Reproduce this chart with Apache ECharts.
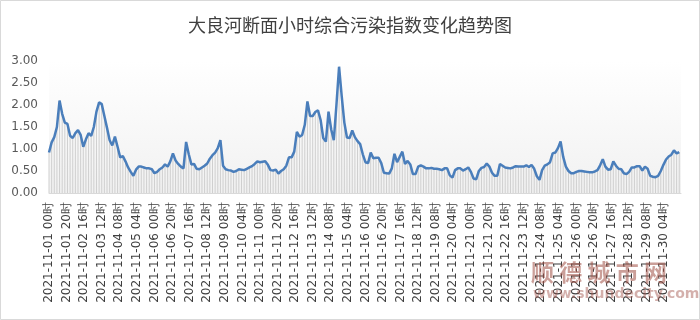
<!DOCTYPE html>
<html>
<head>
<meta charset="utf-8">
<script src="https://cdn.jsdelivr.net/npm/echarts@6/dist/echarts.min.js"></script>
<style>html,body{margin:0;padding:0;background:#fff}#c{width:700px;height:320px}</style>
</head>
<body>
<div id="c"></div>
<script>
// Title
const TITLE = '大良河断面小时综合污染指数变化趋势图';

// Hourly categories 2021-11-01 00时 .. 2021-11-30 23时
const DAYS = 30;
const categories = [];
for (let d = 1; d <= DAYS; d++) {
  for (let h = 0; h < 24; h++) {
    categories.push('2021-11-' + String(d).padStart(2, '0') + ' ' + String(h).padStart(2, '0') + '时');
  }
}

// Readings, one every SAMPLE_STEP hours starting at 11-01 00时
const SAMPLE_STEP = 3;
const pollutionIndex = [
  0.92,1.15,1.27,1.50,2.10,1.80,1.60,1.57,1.30,1.25,1.36,1.43,1.32,1.05,1.22,1.36,1.30,1.50,1.85,2.06,
  2.02,1.75,1.48,1.20,1.08,1.28,1.05,0.81,0.84,0.72,0.58,0.48,0.39,0.53,0.60,0.60,0.58,0.56,0.56,0.54,
  0.45,0.48,0.54,0.58,0.65,0.60,0.72,0.90,0.74,0.66,0.60,0.56,1.16,0.88,0.65,0.66,0.55,0.54,0.58,0.62,
  0.67,0.78,0.86,0.92,1.02,1.20,0.62,0.54,0.52,0.51,0.48,0.50,0.54,0.53,0.52,0.55,0.58,0.61,0.66,0.72,
  0.70,0.71,0.72,0.64,0.52,0.51,0.53,0.44,0.50,0.54,0.62,0.81,0.81,0.94,1.39,1.28,1.32,1.55,2.08,1.75,
  1.75,1.84,1.88,1.66,1.25,1.17,1.85,1.45,1.20,2.00,2.87,2.20,1.60,1.26,1.25,1.42,1.27,1.18,1.11,0.88,
  0.70,0.68,0.92,0.79,0.80,0.80,0.68,0.46,0.45,0.44,0.56,0.89,0.70,0.82,0.94,0.66,0.73,0.65,0.43,0.43,
  0.60,0.63,0.60,0.56,0.56,0.57,0.55,0.55,0.54,0.52,0.56,0.56,0.40,0.35,0.52,0.56,0.56,0.51,0.54,0.58,
  0.48,0.33,0.31,0.50,0.57,0.59,0.67,0.60,0.46,0.39,0.39,0.66,0.62,0.58,0.57,0.56,0.58,0.61,0.60,0.60,
  0.60,0.63,0.59,0.64,0.55,0.38,0.30,0.52,0.62,0.65,0.70,0.90,0.92,1.02,1.17,0.82,0.60,0.50,0.45,0.45,
  0.48,0.50,0.50,0.49,0.48,0.47,0.47,0.49,0.52,0.63,0.77,0.60,0.53,0.54,0.72,0.62,0.55,0.54,0.45,0.43,
  0.48,0.58,0.58,0.61,0.61,0.51,0.60,0.55,0.39,0.37,0.36,0.39,0.50,0.64,0.76,0.83,0.87,0.97,0.90,0.93
];

// y-axis ticks
const Y_MIN = 0, Y_MAX = 3, Y_STEP = 0.5;
const X_LABEL_EVERY = 20;

const seriesData = pollutionIndex.map((v, i) => [i * SAMPLE_STEP, v]);

const chart = echarts.init(document.getElementById('c'), null, {renderer: 'canvas'});
chart.setOption({
  animation: false,
  backgroundColor: '#ffffff',
  title: {
    text: TITLE,
    left: 'center',
    top: 11,
    textStyle: {fontFamily: 'Noto Sans CJK SC', fontSize: 18, fontWeight: 'normal', color: '#404040'}
  },
  grid: {
    left: 49, right: 19, top: 61, bottom: 127,
    show: true,
    borderWidth: 0,
    backgroundColor: new echarts.graphic.LinearGradient(0, 0, 0, 1, [
      {offset: 0, color: '#ffffff'},
      {offset: 1, color: '#f1f1f1'}
    ])
  },
  xAxis: {
    type: 'category',
    data: categories,
    boundaryGap: false,
    axisLine: {show: true, lineStyle: {color: '#d9d9d9', width: 1}},
    axisTick: {show: false},
    axisLabel: {
      interval: X_LABEL_EVERY - 1,
      rotate: 90,
      margin: 9,
      fontFamily: 'DejaVu Sans',
      fontSize: 12,
      color: '#404040'
    },
    splitLine: {show: false}
  },
  yAxis: {
    type: 'value',
    min: Y_MIN, max: Y_MAX, interval: Y_STEP,
    axisLine: {show: false},
    axisTick: {show: false},
    splitLine: {show: false},
    axisLabel: {
      margin: 11,
      fontFamily: 'DejaVu Sans',
      fontSize: 12,
      color: '#595959',
      formatter: v => v.toFixed(2)
    }
  },
  series: [
    {
      type: 'bar',
      data: seriesData,
      barWidth: 1,
      itemStyle: {color: '#cfcfcf'},
      silent: true,
      z: 1
    },
    {
      type: 'line',
      data: seriesData,
      showSymbol: false,
      lineStyle: {color: '#4a7ebb', width: 2.5},
      z: 3
    }
  ],
  graphic: [
    {type: 'rect', shape: {x: 0.5, y: 0.5, width: 699, height: 319}, style: {fill: 'none', stroke: '#d9d9d9', lineWidth: 1}, silent: true},
    {type: 'text', left: 531, top: 261, style: {text: '顺 德 城 市 网', font: 'bold 23px "Noto Sans CJK SC"', fill: 'rgba(160,80,70,0.55)'}, silent: true, z: 100},
    {type: 'text', left: 533, top: 287, style: {text: 'www.shundecity.com', font: 'bold 14px "DejaVu Sans"', fill: 'rgba(160,80,70,0.45)'}, silent: true, z: 100}
  ]
});
</script>
</body>
</html>
